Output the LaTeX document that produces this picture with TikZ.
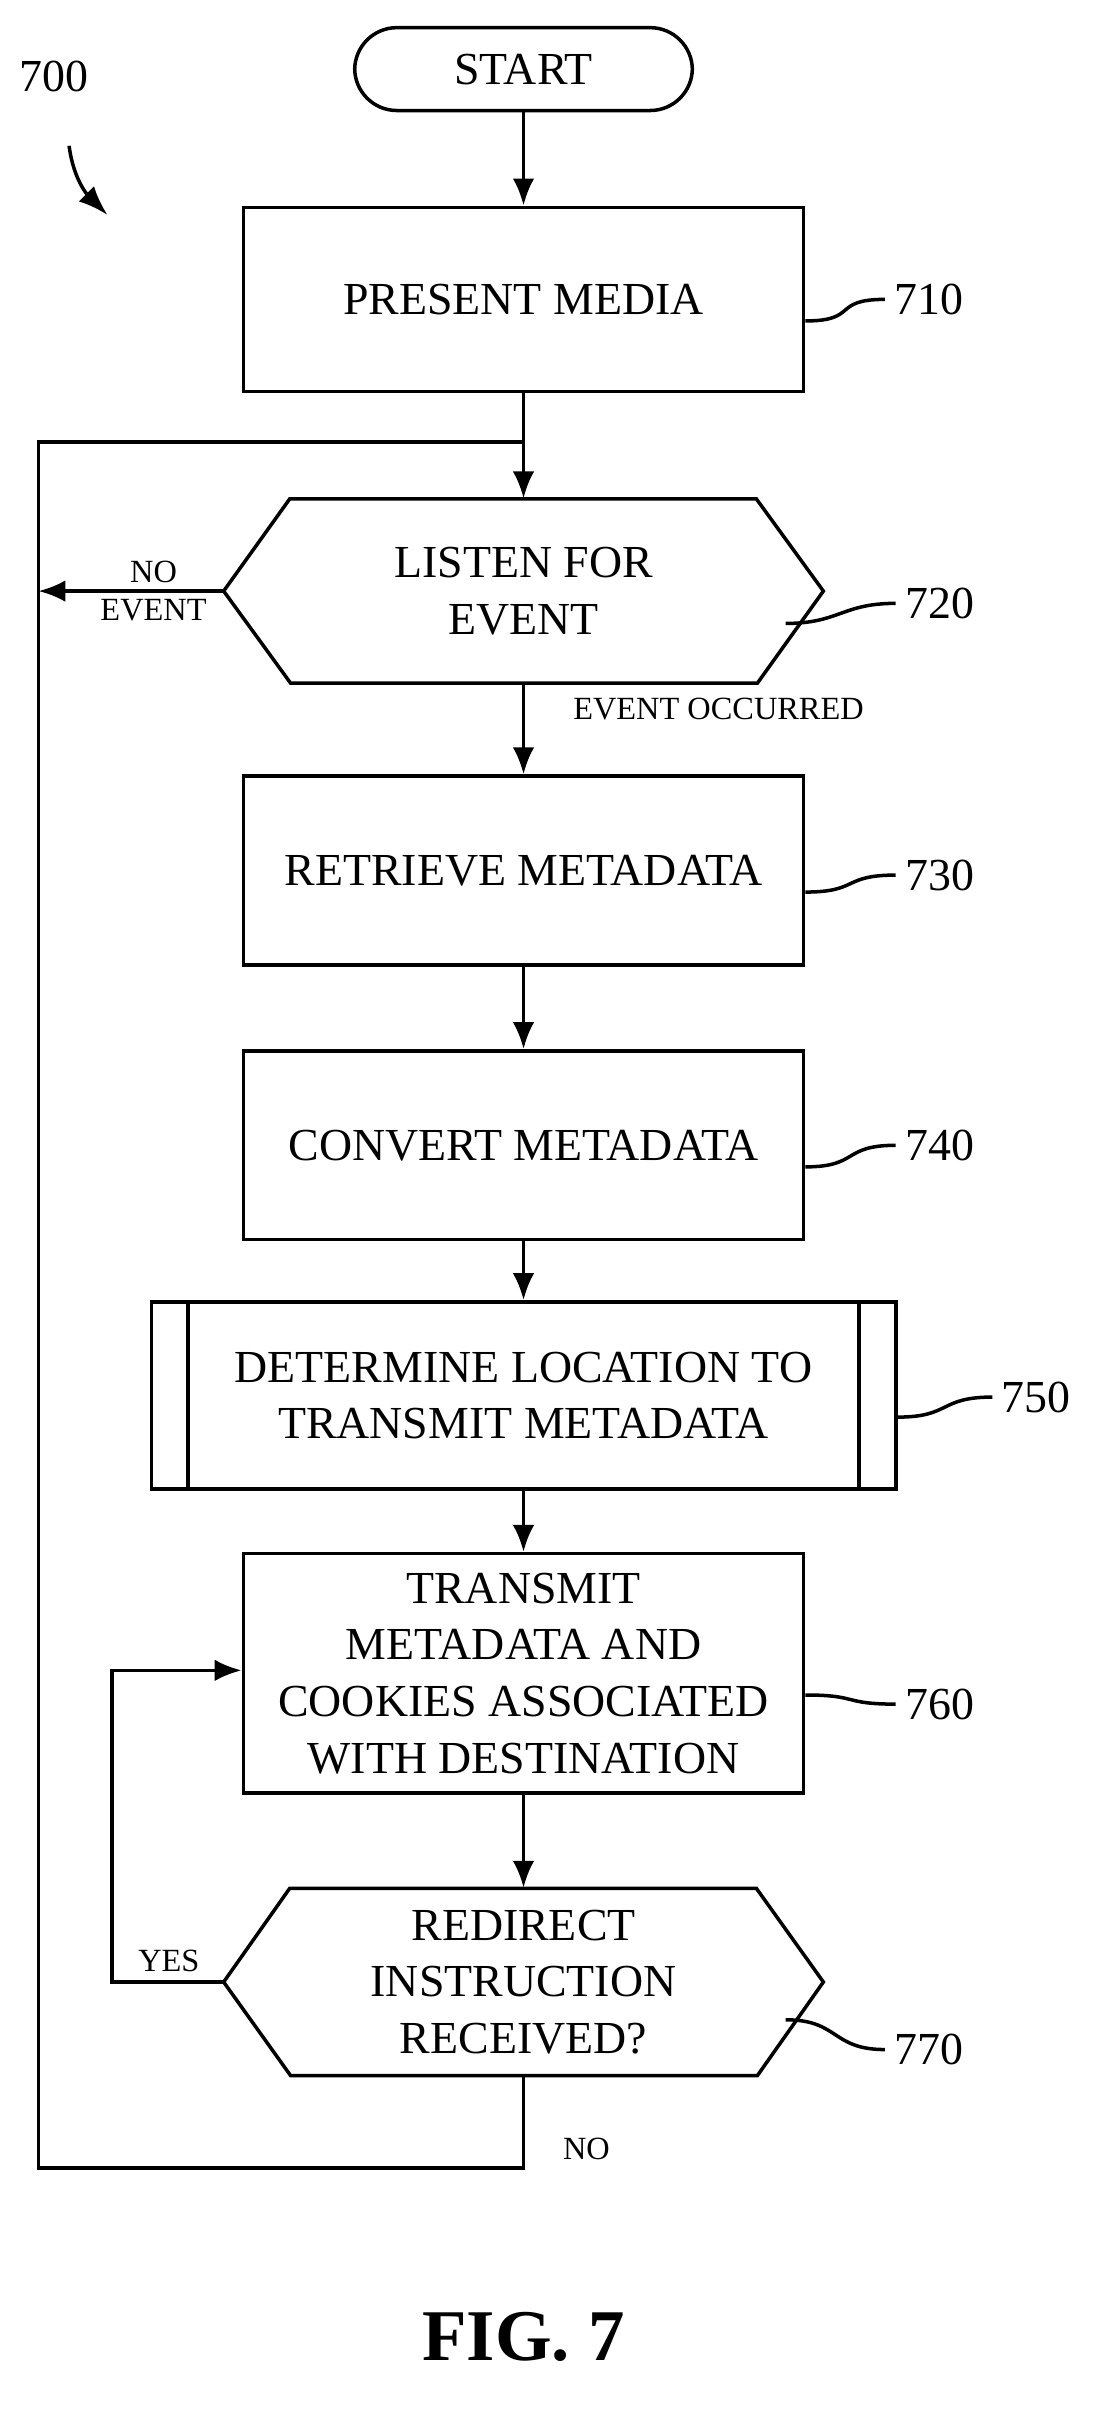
\documentclass[tikz,border=0pt]{standalone}
\usepackage{fontspec}
\setmainfont{Liberation Serif}
\usetikzlibrary{positioning,arrows.meta}

\tikzset{
  box/.style={draw,line width=1.3pt,minimum width=7.3cm,minimum height=2.46cm,align=center,font=\fontsize{17}{21}\selectfont},
  lbl/.style={font=\fontsize{17}{20}\selectfont},
  small/.style={font=\fontsize{12}{14}\selectfont,align=center},
  flow/.style={line width=1.3pt,-{Latex[length=10pt,width=8pt]}},
  line/.style={line width=1.3pt}
}

\begin{document}
\begin{tikzpicture}[x=0.02cm,y=-0.02cm]
\useasboundingbox (0,0) rectangle (720,1575);
\node (start) at (341,45) [draw,line width=1.3pt,rounded corners=0.55cm,minimum width=4.4cm,minimum height=1.08cm,font=\fontsize{17}{20}\selectfont] {START};
\node (n710) at (341,195) [box,minimum height=2.4cm] {PRESENT MEDIA};
\node (n720) at (341,385) [minimum width=7.8cm,minimum height=2.4cm,align=center,font=\fontsize{17}{21}\selectfont] {LISTEN FOR\\EVENT};
\node (n730) at (341,567) [box] {RETRIEVE METADATA};
\node (n740) at (341,746) [box] {CONVERT METADATA};
\node (n750) at (341,909) [box,minimum width=9.7cm,minimum height=2.44cm] {DETERMINE LOCATION TO\\TRANSMIT METADATA};
\node (n760) at (341,1090) [box,minimum height=3.12cm] {TRANSMIT\\METADATA AND\\COOKIES ASSOCIATED\\WITH DESTINATION};
\node (n770) at (341,1291) [minimum width=7.8cm,minimum height=2.44cm,align=center,font=\fontsize{17}{21}\selectfont] {REDIRECT\\INSTRUCTION\\RECEIVED?};
% hexagons and side bars
\draw[line] (n720.west) -- ++(43,-60) -- ++(304,0) -- (n720.east) -- ++(-43,60) -- ++(-304,0) -- cycle;
\draw[line] (n770.west) -- ++(43,-61) -- ++(304,0) -- (n770.east) -- ++(-43,61) -- ++(-304,0) -- cycle;
\draw[line] ([xshift=0.5cm]n750.north west) -- ([xshift=0.5cm]n750.south west);
\draw[line] ([xshift=-0.5cm]n750.north east) -- ([xshift=-0.5cm]n750.south east);
% reference labels
\node (l710) at (605,195) [lbl] {710};
\node (l720) at (612,393) [lbl] {720};
\node (l730) at (612,570) [lbl] {730};
\node (l740) at (612,746) [lbl] {740};
\node (l750) at (675,910) [lbl] {750};
\node (l760) at (612,1110) [lbl] {760};
\node (l770) at (605,1335) [lbl] {770};
\node (l700) at (35,50) [lbl] {700};
\foreach \n in {710,730,740,750,760}
  \draw[line] ([yshift=-8pt]n\n.east) .. controls +(35,0) and +(-35,0) .. (l\n.west);
\draw[line] ([xshift=-14pt,yshift=-12pt]n720.east) .. controls +(35,0) and +(-35,0) .. (l720.west);
\draw[line] ([xshift=-14pt,yshift=-14pt]n770.east) .. controls +(35,0) and +(-35,0) .. (l770.west);
\coordinate (a700) at (70,140);
\draw[line,-{Latex[length=11pt,width=8pt]}] (45,95) .. controls (48,118) and (58,128) .. (a700);
% flow
\coordinate (join) at (341,288);
\coordinate (left) at (25,385);
\draw[flow] (start) -- (n710);
\draw[flow] (n710) -- (n720.north);
\draw[flow] (n720.south) -- (n730);
\draw[flow] (n730) -- (n740);
\draw[flow] (n740) -- (n750);
\draw[flow] (n750) -- (n760);
\draw[flow] (n760) -- (n770.north);
\draw[flow] (n720.west) -- (left);
\draw[line] (n770.south) -- (341,1412) -- (25,1412) -- (25,288) -- (join);
\draw[flow] (n770.west) -- (73,1291) -- (73,1088) -- (n760.west|-73,1088);
\node (noev) at (100,385) [small] {NO\\EVENT};
\node (occ) at (468,462) [small] {EVENT OCCURRED};
\node (yes) at (110,1277) [small] {YES};
\node (no) at (382,1400) [small] {NO};
\node (fig) at (341,1522) [font=\fontsize{27}{30}\selectfont\bfseries] {FIG. 7};
\end{tikzpicture}
\end{document}
